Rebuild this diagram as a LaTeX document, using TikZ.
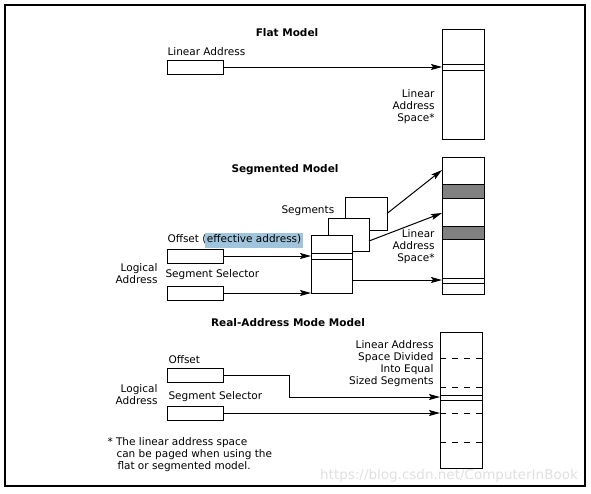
\documentclass[tikz,border=0pt]{standalone}
\usepackage{fontspec}
\setmainfont{DejaVu Sans}
\usetikzlibrary{arrows.meta}

\definecolor{selblue}{RGB}{160,196,220}
\definecolor{bandgray}{RGB}{128,128,128}

\tikzset{
  txt/.style={font=\fontsize{10.5}{12}\selectfont, inner sep=0pt},
  heading/.style={font=\fontsize{10.5}{12}\selectfont\bfseries, inner sep=0pt},
  regbox/.style={draw, minimum width=56pt, minimum height=14pt, inner sep=0pt, outer sep=0pt, anchor=north west},
  segbox/.style={draw, fill=white, inner sep=0pt, outer sep=0pt},
  addrspace/.style={draw, minimum width=42pt, inner sep=0pt, outer sep=0pt, anchor=north west},
  arr/.style={-{Stealth[length=11pt, width=6pt, inset=2pt]}},
}

\begin{document}
\begin{tikzpicture}[x=1pt, y=-1pt, line width=1pt]
        \useasboundingbox (0,0) rectangle (591,493);
        % Outer frame
        \draw[line width=1.4pt] (5,5) rectangle (585,486);

        % Flat model
        \node[heading] (flattitle) at (287,33) {Flat Model};
        \node[txt, anchor=west] (linlabel) at (167,52) {Linear Address};
        \node[regbox] (linbox) at (167,60) {};
        \node[addrspace, minimum height=110pt] (flatspace) at (442,29) {};
        \draw (flatspace.west |- 0,64) -- (flatspace.east |- 0,64);
        \draw (flatspace.west |- 0,70) -- (flatspace.east |- 0,70);
        \node[txt, anchor=east, align=right] (flatspacelabel) at (435,107) {Linear\\Address\\Space*};
        \draw[arr] (linbox.east) -- (linbox.east -| flatspace.west);

        % Segmented model
        \node[heading] (segtitle) at (285,170) {Segmented Model};
        \node[addrspace, minimum height=137pt] (segspace) at (442,157) {};
        \draw[fill=bandgray] (segspace.west |- 0,184) rectangle (segspace.east |- 0,198);
        \draw[fill=bandgray] (segspace.west |- 0,226) rectangle (segspace.east |- 0,239);
        \draw (segspace.west |- 0,278) -- (segspace.east |- 0,278);
        \draw (segspace.west |- 0,283) -- (segspace.east |- 0,283);
        \node[txt, anchor=east, align=right] (segspacelabel) at (435,247) {Linear\\Address\\Space*};

        % Stack of segments, back to front
        \node[segbox, minimum width=42pt, minimum height=33pt, anchor=north west] (seg3) at (345,197) {};
        \node[segbox, minimum width=41pt, minimum height=33pt, anchor=north west] (seg2) at (328,218) {};
        \node[segbox, minimum width=41pt, minimum height=58pt, anchor=north west] (seg1) at (311,235) {};
        \draw (seg1.west |- 0,253) -- (seg1.east |- 0,253);
        \draw (seg1.west |- 0,259) -- (seg1.east |- 0,259);
        \node[txt, anchor=west] (seglabel) at (281,211) {Segments};

        \node[txt, anchor=west] (offlabel) at (167,240)
          {Offset (\hspace{-1pt}{\fboxsep=1.5pt\colorbox{selblue}{\strut effective address)}}};
        \node[regbox] (offbox) at (167,249) {};
        \node[txt, anchor=west] (sellabel) at (165,275) {Segment Selector};
        \node[regbox] (selbox) at (167,286) {};
        \node[txt, anchor=east, align=right] (loglabel) at (158,274) {Logical\\Address};

        \draw[arr] (offbox.east) -- (offbox.east -| seg1.west);
        \draw[arr] (selbox.east) -- (selbox.east -| seg1.west);
        \draw[arr] (seg3.east) -- (segspace.west |- 0,170);
        \draw[arr] (seg2.east |- 0,241) -- (segspace.west |- 0,213);
        \draw[arr] (seg1.east |- 0,280) -- (segspace.west |- 0,280);

        % Real-address mode model
        \node[heading] (realtitle) at (288,323) {Real-Address Mode Model};
        \node[addrspace, minimum height=136pt] (realspace) at (440,332) {};
        \foreach \yy in {358,387,413,442}
          \draw[dashed, dash pattern=on 6pt off 6pt] (realspace.west |- 0,\yy) -- (realspace.east |- 0,\yy);
        \draw (realspace.west |- 0,395) -- (realspace.east |- 0,395);
        \draw (realspace.west |- 0,400) -- (realspace.east |- 0,400);
        \node[txt, anchor=east, align=right] (realspacelabel) at (434,364)
          {Linear Address\\Space Divided\\Into Equal\\Sized Segments};

        \node[txt, anchor=west] (roffl) at (168,360) {Offset};
        \node[regbox] (roffbox) at (167,368) {};
        \node[txt, anchor=west] (rsell) at (168,397) {Segment Selector};
        \node[regbox] (rselbox) at (167,406) {};
        \node[txt, anchor=east, align=right] (rloglabel) at (158,395) {Logical\\Address};

        \draw[arr] (roffbox.east) -- ++(66,0) |- (realspace.west |- 0,397);
        \draw[arr] (rselbox.east) -- (rselbox.east -| realspace.west);

        % Footnote
        \node[txt, anchor=north west, align=left] (footnote) at (107,437)
          {* The linear address space\\\hspace*{9pt}can be paged when using the\\\hspace*{10pt}flat or segmented model.};

        % Watermark
        \node[font=\fontsize{13.5}{15}\selectfont, text=black!12, inner sep=0pt] (mark) at (449,476)
          {https://blog.csdn.net/ComputerInBook};
\end{tikzpicture}
\end{document}
